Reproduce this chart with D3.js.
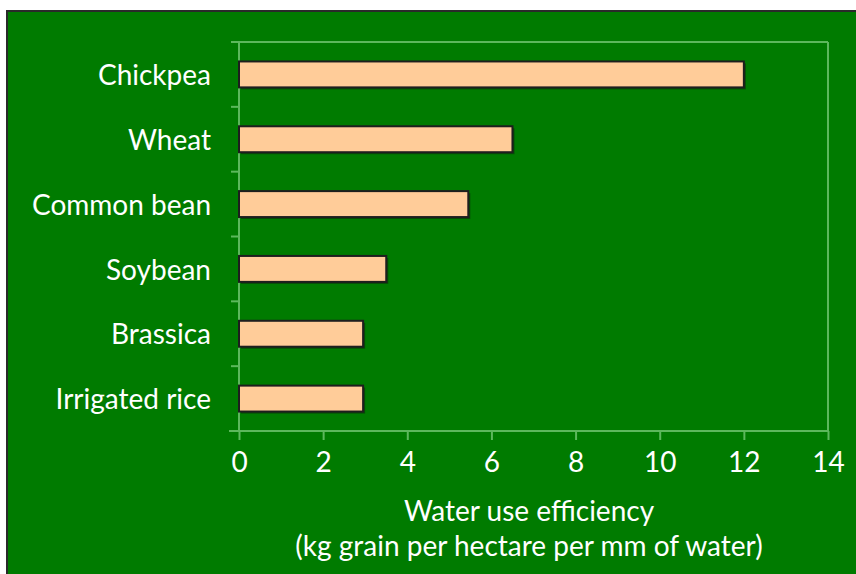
<!doctype html>
<html>
<head>
<script src="https://d3js.org/d3.v7.min.js"></script>
<style>
body { margin: 0; background: #fff; }
text { font-family: Lato, "Liberation Sans", sans-serif; fill: #fff; }
</style>
</head>
<body>
<script type="text/javascript">
var width = 856;
var height = 574;

// crops, top to bottom
var crops = ["Chickpea", "Wheat", "Common bean", "Soybean", "Brassica", "Irrigated rice"];
// water use efficiency, kg grain per hectare per mm of water
var efficiency = [12, 6.5, 5.45, 3.5, 2.95, 2.95];
var xTicks = [0, 2, 4, 6, 8, 10, 12, 14];
var titleLines = ["Water use efficiency", "(kg grain per hectare per mm of water)"];

var green = "#007b00";
var axisCol = "#5cb85c";

var svg = d3.select("body").append("svg")
  .attr("width", width)
  .attr("height", height);

// green panel with dark edge
svg.append("rect")
  .attr("x", 7).attr("y", 11)
  .attr("width", 880).attr("height", 600)
  .attr("fill", green)
  .attr("stroke", "#2a2a2a")
  .attr("stroke-width", 2);

var x = d3.scaleLinear().domain([0, 14]).range([239, 828]);
var y = d3.scaleBand().domain(crops).range([42, 431])
  .paddingInner(0.6).paddingOuter(0.3);

var gap = (y.step() - y.bandwidth()) / 2;

// frame: top and right lines
svg.append("line")
  .attr("x1", 231).attr("x2", x(14))
  .attr("y1", 42).attr("y2", 42)
  .attr("stroke", axisCol).attr("stroke-width", 2);
svg.append("line")
  .attr("x1", x(14)).attr("x2", x(14))
  .attr("y1", 42).attr("y2", 431)
  .attr("stroke", axisCol).attr("stroke-width", 2);

// left axis line
svg.append("line")
  .attr("x1", x(0)).attr("x2", x(0))
  .attr("y1", 42).attr("y2", 431)
  .attr("stroke", axisCol).attr("stroke-width", 2);

// ticks between categories
svg.selectAll(".ytick")
  .data(crops.slice(1))
  .enter().append("line")
  .attr("class", "ytick")
  .attr("x1", 231).attr("x2", x(0))
  .attr("y1", function (d) { return y(d) - gap; })
  .attr("y2", function (d) { return y(d) - gap; })
  .attr("stroke", axisCol).attr("stroke-width", 2);

// bottom axis
var xAxis = d3.axisBottom(x).tickValues(xTicks).tickSize(9).tickSizeOuter(0).tickPadding(12);
var gx = svg.append("g")
  .attr("transform", "translate(0,431)")
  .call(xAxis);
gx.select(".domain").remove();
gx.selectAll(".tick line").attr("stroke", axisCol).attr("stroke-width", 2);
gx.selectAll(".tick text")
  .attr("font-size", 28)
  .attr("fill", "#fff")
  .style("font-family", "Lato, 'Liberation Sans', sans-serif");
svg.append("line")
  .attr("x1", 229).attr("x2", x(14))
  .attr("y1", 431).attr("y2", 431)
  .attr("stroke", axisCol).attr("stroke-width", 2);

// bar shadows
svg.selectAll(".shadow")
  .data(efficiency)
  .enter().append("rect")
  .attr("class", "shadow")
  .attr("x", x(0) + 2)
  .attr("y", function (d, i) { return y(crops[i]) + 2; })
  .attr("width", function (d) { return x(d) - x(0); })
  .attr("height", y.bandwidth())
  .attr("fill", "#0b2a0b")
  .attr("opacity", 0.6);

// bars
svg.selectAll(".bar")
  .data(efficiency)
  .enter().append("rect")
  .attr("class", "bar")
  .attr("x", x(0))
  .attr("y", function (d, i) { return y(crops[i]); })
  .attr("width", function (d) { return x(d) - x(0); })
  .attr("height", y.bandwidth())
  .attr("fill", "#ffcc99")
  .attr("stroke", "#1e1e1e")
  .attr("stroke-width", 2);

// category labels
svg.selectAll(".cat")
  .data(crops)
  .enter().append("text")
  .attr("class", "cat")
  .attr("x", 211)
  .attr("y", function (d) { return y(d) + y.bandwidth() / 2; })
  .attr("dy", "0.38em")
  .attr("text-anchor", "end")
  .attr("font-size", 28)
  .text(function (d) { return d; });

// axis title
svg.selectAll(".title")
  .data(titleLines)
  .enter().append("text")
  .attr("class", "title")
  .attr("x", 529)
  .attr("y", function (d, i) { return 521 + i * 35; })
  .attr("text-anchor", "middle")
  .attr("font-size", 28)
  .text(function (d) { return d; });
</script>
</body>
</html>
